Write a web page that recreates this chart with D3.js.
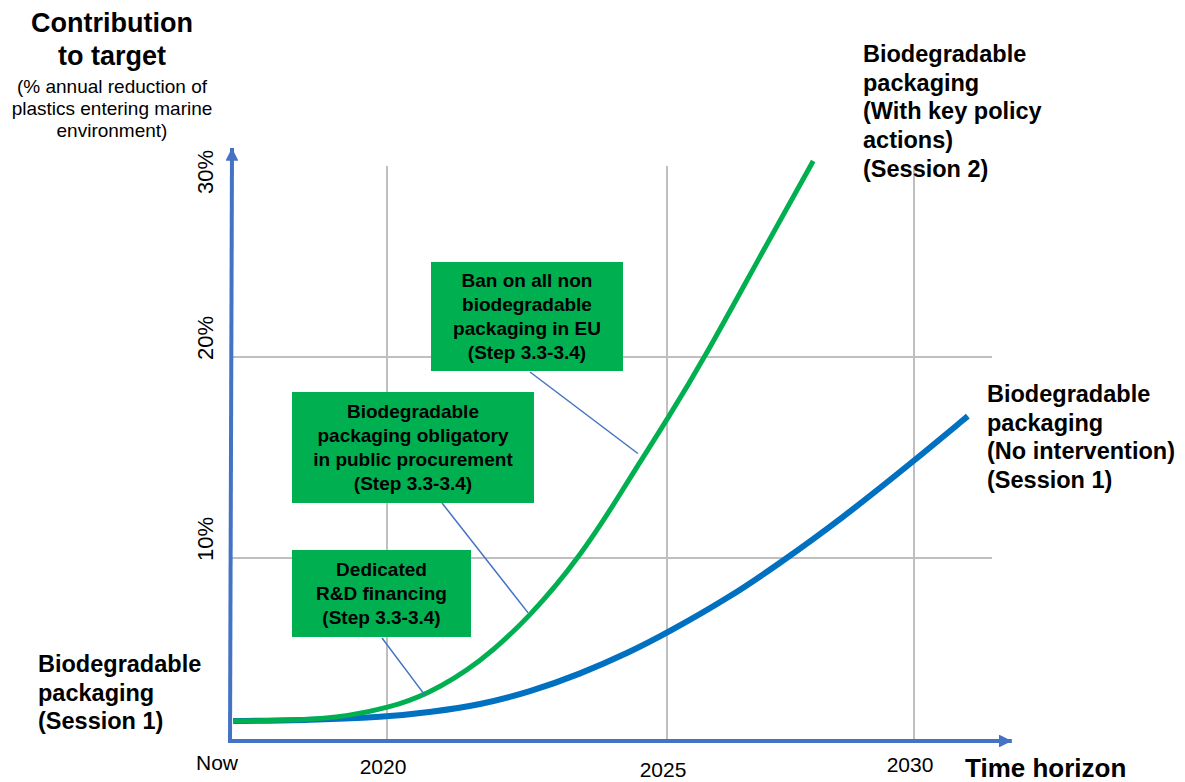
<!DOCTYPE html>
<html>
<head>
<meta charset="utf-8">
<script src="https://cdn.jsdelivr.net/npm/d3@7"></script>
<style>
  body { margin: 0; background: #fff; }
  svg { display: block; font-family: "Liberation Sans", Arial, Helvetica, sans-serif; }
</style>
</head>
<body>
<div id="chart"></div>
<script>
// x ticks: "Now" sits at the y axis
const tickYears = [2017, 2020, 2025, 2030];
const tickLabels = ['Now', '2020', '2025', '2030'];
const yTicks = [10, 20, 30];

// with key policy actions (session 2)
const policyYears = [2017.06, 2018.34, 2019.29, 2020, 2020.71, 2021.66, 2022.55, 2023.45, 2024.21, 2024.45, 2025, 2025.77, 2026.88, 2027.96];
const policyValues = [1.09, 1.12, 1.37, 1.8, 2.51, 4.26, 6.78, 10.05, 13.38, 14.48, 16.87, 20.0, 25.0, 29.75];

// no intervention (session 1)
const baseYears = [2017.06, 2018.34, 2020, 2020.77, 2021.66, 2022.55, 2023.45, 2024.34, 2025, 2026.28, 2027.29, 2028.5, 2030, 2031.09];
const baseValues = [1.09, 1.12, 1.31, 1.58, 1.97, 2.68, 3.66, 4.86, 5.9, 7.87, 9.73, 11.89, 14.83, 17.06];

const width = 1185, height = 782;
const axisBlue = '#4472C4';
const green = '#00B050';
const lineBlue = '#0070C0';
const grid = '#bfbfbf';

// the picture's axes are not evenly spaced, so both scales are piecewise
const x = d3.scaleLinear().domain(tickYears).range([230, 387, 667, 914]);
const y = d3.scaleLinear().domain([0, 10, 20, 30]).range([741, 558, 357, 156]);

const svg = d3.select('#chart').append('svg')
  .attr('width', width)
  .attr('height', height);

const defs = svg.append('defs');
defs.append('marker')
  .attr('id', 'arrow')
  .attr('viewBox', '0 0 10 10')
  .attr('refX', 10).attr('refY', 5)
  .attr('markerWidth', 3.2).attr('markerHeight', 3.2)
  .attr('markerUnits', 'strokeWidth')
  .attr('orient', 'auto')
  .append('path')
  .attr('d', 'M0,0L10,5L0,10Z')
  .attr('fill', axisBlue);

// grid
svg.append('g').selectAll('line')
  .data(tickYears.slice(1))
  .enter().append('line')
  .attr('x1', d => x(d)).attr('x2', d => x(d))
  .attr('y1', y(29.5)).attr('y2', y(0))
  .attr('stroke', grid).attr('stroke-width', 2);

svg.append('g').selectAll('line')
  .data(yTicks.slice(0, 2))
  .enter().append('line')
  .attr('x1', x(2017)).attr('x2', x(2031.58))
  .attr('y1', d => y(d)).attr('y2', d => y(d))
  .attr('stroke', grid).attr('stroke-width', 2);

// axes with arrow heads
svg.append('line')
  .attr('x1', x(2017) - 2).attr('y1', y(0))
  .attr('x2', x(2031.98)).attr('y2', y(0))
  .attr('stroke', axisBlue).attr('stroke-width', 4)
  .attr('marker-end', 'url(#arrow)');

svg.append('line')
  .attr('x1', x(2017)).attr('y1', y(0) + 2)
  .attr('x2', x(2017) + 2).attr('y2', y(30.4))
  .attr('stroke', axisBlue).attr('stroke-width', 4)
  .attr('marker-end', 'url(#arrow)');

// y tick labels, rotated; the top one sits under the arrow
svg.append('g').selectAll('text')
  .data(yTicks)
  .enter().append('text')
  .attr('transform', d => {
    const cy = d === 30 ? y(d) + 16 : y(d) - 19;
    return 'translate(213,' + cy + ') rotate(-90)';
  })
  .attr('text-anchor', 'middle')
  .style('font-size', '22px')
  .text(d => d + '%');

// x tick labels
svg.append('g').selectAll('text')
  .data(tickYears)
  .enter().append('text')
  .attr('x', (d, i) => i === 0 ? x(d) - 13 : x(d) - 4)
  .attr('y', (d, i) => [770, 774, 777, 772][i])
  .attr('text-anchor', 'middle')
  .style('font-size', '21px')
  .text((d, i) => tickLabels[i]);

svg.append('text')
  .attr('x', 965).attr('y', 777)
  .style('font-size', '26px').style('font-weight', 'bold')
  .text('Time horizon');

// y title
const title = svg.append('text').attr('text-anchor', 'middle');
[['Contribution', 32], ['to target', 65]].forEach(([t, by]) => {
  title.append('tspan').attr('x', 112).attr('y', by)
    .style('font-size', '27px').style('font-weight', 'bold').text(t);
});
['(% annual reduction of', 'plastics entering marine', 'environment)'].forEach((t, i) => {
  title.append('tspan').attr('x', 112).attr('y', 93 + i * 22)
    .style('font-size', '19px').text(t);
});

// curves
const line = d3.line()
  .x(d => x(d[0]))
  .y(d => y(d[1]))
  .curve(d3.curveBasis);

svg.append('path')
  .datum(baseYears.map((d, i) => [d, baseValues[i]]))
  .attr('d', line)
  .attr('fill', 'none')
  .attr('stroke', lineBlue)
  .attr('stroke-width', 6);

svg.append('path')
  .datum(policyYears.map((d, i) => [d, policyValues[i]]))
  .attr('d', line)
  .attr('fill', 'none')
  .attr('stroke', green)
  .attr('stroke-width', 5);

// callouts: box, text lines, leader to the green curve
const callouts = [
  { box: [431, 262, 192, 109], lines: ['Ban on all non', 'biodegradable', 'packaging in EU', '(Step 3.3-3.4)'],
    from: [530, 372], to: [2024.48, 15.2] },
  { box: [292, 392, 242, 111], lines: ['Biodegradable', 'packaging obligatory', 'in public procurement', '(Step 3.3-3.4)'],
    from: [442, 503], to: [2022.52, 7.0] },
  { box: [292, 550, 179, 87], lines: ['Dedicated', 'R&D financing', '(Step 3.3-3.4)'],
    from: [382, 638], to: [2020.69, 2.45] }
];

callouts.forEach(c => {
  svg.append('line')
    .attr('x1', c.from[0]).attr('y1', c.from[1])
    .attr('x2', x(c.to[0])).attr('y2', y(c.to[1]))
    .attr('stroke', axisBlue).attr('stroke-width', 1.5);
  const [bx, by, bw, bh] = c.box;
  svg.append('rect')
    .attr('x', bx).attr('y', by).attr('width', bw).attr('height', bh)
    .attr('fill', green);
  const t = svg.append('text').attr('text-anchor', 'middle')
    .style('font-size', '19px').style('font-weight', 'bold');
  const top = by + bh / 2 - (c.lines.length - 1) * 24.3 / 2 + 6.5;
  c.lines.forEach((l, i) => {
    t.append('tspan').attr('x', bx + bw / 2).attr('y', top + i * 24.3).text(l);
  });
});

// series labels
const labels = [
  { x: 863, y: 62, lines: ['Biodegradable', 'packaging', '(With key policy', 'actions)', '(Session 2)'] },
  { x: 987, y: 402, lines: ['Biodegradable', 'packaging', '(No intervention)', '(Session 1)'] },
  { x: 38, y: 672, lines: ['Biodegradable', 'packaging', '(Session 1)'] }
];
labels.forEach(l => {
  const t = svg.append('text')
    .style('font-size', '23.5px').style('font-weight', 'bold');
  l.lines.forEach((s, i) => {
    t.append('tspan').attr('x', l.x).attr('y', l.y + i * 28.7).text(s);
  });
});
</script>
</body>
</html>
